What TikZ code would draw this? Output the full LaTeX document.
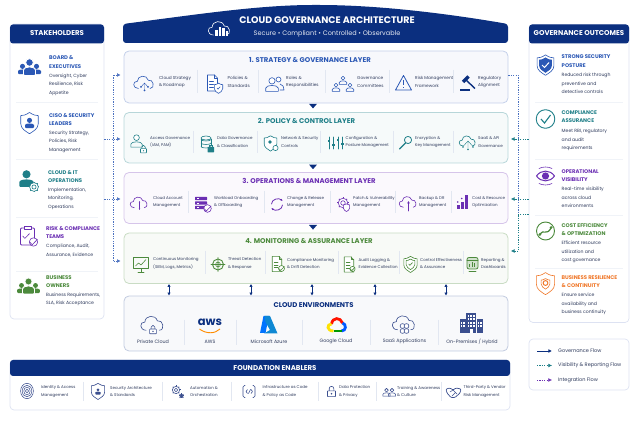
\documentclass[tikz,border=0pt]{standalone}
\usepackage{fontspec}
\usepackage{xcolor}
\usetikzlibrary{arrows.meta}
\setmainfont{Poppins}

\definecolor{navyhead}{HTML}{0B2F7F}
\definecolor{inktext}{HTML}{2E3A5C}
\definecolor{bluet}{HTML}{2B58B5}
\definecolor{tealt}{HTML}{1F7F88}
\definecolor{purplet}{HTML}{6B2FB3}
\definecolor{greent}{HTML}{4C8A3C}
\definecolor{oranget}{HTML}{F0782A}
\definecolor{greyblue}{HTML}{3B4F8F}
\definecolor{panelline}{HTML}{DDE2F2}
\definecolor{sepline}{HTML}{E2E7F1}

\tikzset{
  icl/.style={draw=#1,line width=0.6pt,line cap=round,line join=round},
  panelbox/.style={draw=panelline,line width=0.7pt,fill=white,rounded corners=4pt,inner sep=0pt},
  layerbox/.style n args={2}{draw=#1,fill=#2,line width=0.8pt,rounded corners=5pt,inner sep=0pt,
    minimum width=384pt},
  headtxt/.style={text=white,inner sep=0pt,font=\bfseries\fontsize{7}{8}\selectfont},
  layertitle/.style={inner sep=0pt,font=\bfseries\fontsize{6.9}{8}\selectfont},
  itemtxt/.style={anchor=west,align=left,inner sep=0pt,text=inktext,font=\fontsize{4}{7.5}\selectfont},
  itemtxtbig/.style={itemtxt,font=\fontsize{4.25}{7.5}\selectfont},
  sidetitle/.style={anchor=west,align=left,inner sep=0pt,font=\bfseries\fontsize{5.3}{8.5}\selectfont},
  sidetxt/.style={anchor=west,align=left,inner sep=0pt,text=inktext,font=\fontsize{4.6}{8.4}\selectfont},
  envtxt/.style={inner sep=0pt,text=inktext,font=\fontsize{4.8}{5}\selectfont},
  legendtxt/.style={anchor=west,inner sep=0pt,text=inktext,font=\fontsize{5}{6}\selectfont},
  busline/.style={draw=#1,line width=0.6pt,dash pattern=on 1.2pt off 1.2pt},
  flowtip/.style={-{Latex[length=3.6pt,width=3.8pt]}},
  twotip/.style={{Latex[length=3pt,width=3.4pt]}-{Latex[length=3pt,width=3.4pt]},draw=navyhead,line width=0.6pt},
}

% small icons, all centred on (#1,#2)
\newcommand{\iccloud}[4]{\begin{scope}[shift={(#1,#2)},scale=#3]
  \draw[icl=#4] (-5.5,5) .. controls (-11,5) and (-11,-2) .. (-6.5,-1.5) .. controls (-6.5,-7) and (2,-8) .. (3.5,-2.5) .. controls (8,-4) and (10,5) .. (5,5);
\end{scope}}
\newcommand{\iclock}[4]{\begin{scope}[shift={(#1,#2)},scale=#3]
  \draw[icl=#4] (-2,-1) -- (-2,-3) .. controls (-2,-5.5) and (2,-5.5) .. (2,-3) -- (2,-1);
  \draw[icl=#4,fill=white,rounded corners=0.5pt] (-3.5,-1) rectangle (3.5,4);
  \fill[#4] (0,1.5) circle (0.8);
\end{scope}}
\newcommand{\icshield}[4]{\begin{scope}[shift={(#1,#2)},scale=#3]
  \draw[icl=#4,fill=white] (0,-8) .. controls (3,-6) and (5,-5.5) .. (7,-5.5) -- (7,1) .. controls (7,5) and (3,7) .. (0,9) .. controls (-3,7) and (-7,5) .. (-7,1) -- (-7,-5.5) .. controls (-5,-5.5) and (-3,-6) .. (0,-8) -- cycle;
\end{scope}}
\newcommand{\iccheck}[4]{\begin{scope}[shift={(#1,#2)},scale=#3]
  \draw[icl=#4] (-3,0) -- (-1,2.2) -- (3.2,-2.2);
\end{scope}}
\newcommand{\icgear}[4]{\begin{scope}[shift={(#1,#2)}]
  \foreach \a in {0,45,...,315} \draw[#4,line width=1pt] (\a:#3-0.5) -- (\a:#3+0.7);
  \draw[icl=#4,fill=white] (0,0) circle (#3-0.2);
  \draw[icl=#4] (0,0) circle (#3*0.45);
\end{scope}}
\newcommand{\icperson}[4]{\begin{scope}[shift={(#1,#2)},scale=#3]
  \draw[icl=#4,fill=white] (0,-3) circle (3);
  \draw[icl=#4] (-6,7) -- (-6,4) .. controls (-6,0.5) and (6,0.5) .. (6,4) -- (6,7) -- cycle;
\end{scope}}
\newcommand{\icpersonfill}[4]{\begin{scope}[shift={(#1,#2)},scale=#3]
  \fill[#4] (0,-3.5) circle (3.4);
  \fill[#4,rounded corners=1pt] (-6,7) -- (-6,4) .. controls (-6,0) and (6,0) .. (6,4) -- (6,7) -- cycle;
\end{scope}}
\newcommand{\icdoc}[4]{\begin{scope}[shift={(#1,#2)},scale=#3]
  \draw[icl=#4,fill=white] (-5,-8) -- (2,-8) -- (5,-5) -- (5,8) -- (-5,8) -- cycle;
  \draw[icl=#4] (2,-8) -- (2,-5) -- (5,-5);
  \foreach \ly in {-2,1,4} \draw[icl=#4] (-3,\ly) -- (1,\ly);
\end{scope}}
\newcommand{\icbadge}[4]{\draw[icl=#4,fill=white] (#1,#2) circle (#3);
  \iccheck{#1}{#2}{#3*0.3}{#4}}

\begin{document}
\begin{tikzpicture}[x=1pt,y=-1pt]
  \useasboundingbox (0,0) rectangle (640,427);

  % Title banner
  \fill[navyhead,rounded corners=3pt] (123,43) -- (123,24) .. controls (200,14) and (260,5) .. (316,5) .. controls (380,5) and (450,14) .. (508,24) -- (508,43) -- cycle;
  \node[inner sep=0pt,text=white,font=\bfseries\fontsize{9.5}{10}\selectfont] (maintitle) at (327,20.5) {CLOUD GOVERNANCE ARCHITECTURE};
  \node[inner sep=0pt,text=white!90!navyhead,font=\fontsize{6.5}{7}\selectfont] (subtitle) at (327,33.5) {Secure • Compliant • Controlled • Observable};
  \iccloud{220}{29}{1.2}{white}
  \foreach \bx/\bh in {215/6,218.5/9,222/8,225.5/5} \fill[white] (\bx,36) rectangle +(2.5,-\bh);

  % Stakeholders panel
  \node[panelbox,minimum width=94pt,minimum height=295pt] (stake) at (57,171.5) {};
  \fill[navyhead,rounded corners=3pt] (10,43.5) -- (10,24.5) -- (104,24.5) -- (104,43.5) -- cycle;
  \node[headtxt] (stakehead) at (57,33.5) {STAKEHOLDERS};
  \foreach \ly in {102.5,159.5,217,271} \draw[sepline!50,line width=0.5pt] (16,\ly) -- (98,\ly);

  \node[sidetitle,text=bluet] (s1a) at (49,62) {BOARD \&\\EXECUTIVES};
  \node[sidetxt] (s1b) at (49,84.5) {Oversight, Cyber\\Resilience, Risk\\Appetite};
  \node[sidetitle,text=bluet] (s2a) at (49,119.5) {CISO \& SECURITY\\LEADERS};
  \node[sidetxt] (s2b) at (49,141.5) {Security Strategy,\\Policies, Risk\\Management};
  \node[sidetitle,text=tealt] (s3a) at (48,176.5) {CLOUD \& IT\\OPERATIONS};
  \node[sidetxt] (s3b) at (48,198.5) {Implementation,\\Monitoring,\\Operations};
  \node[sidetitle,text=purplet] (s4a) at (46,232.5) {RISK \& COMPLIANCE\\TEAMS};
  \node[sidetxt] (s4b) at (46,250.5) {Compliance, Audit,\\Assurance, Evidence};
  \node[sidetitle,text=greent] (s5a) at (46,281.5) {BUSINESS\\OWNERS};
  \node[sidetxt] (s5b) at (46,299.5) {Business Requirements,\\SLA, Risk Acceptance};

  % Stakeholder icons
  \begin{scope}[shift={(29.5,67)}]
    \icpersonfill{-7}{2}{0.75}{bluet}\icpersonfill{7}{2}{0.75}{bluet}
    \draw[white,line width=0.8pt,fill=bluet] (0,-4.5) circle (3.8);
    \draw[white,line width=0.8pt,fill=bluet,rounded corners=1pt] (-6,8.5) -- (-6,4) .. controls (-6,-1) and (6,-1) .. (6,4) -- (6,8.5) -- cycle;
  \end{scope}
  \icshield{29.5}{122.5}{1.25}{bluet}
  \icpersonfill{29.5}{123}{0.75}{bluet}
  \icpersonfill{26.5}{178.5}{1.2}{tealt}
  \icgear{34}{187}{4.6}{tealt}
  \draw[icl=purplet,line width=0.8pt,rounded corners=1pt] (20.5,228) rectangle (34.5,245);
  \draw[icl=purplet,fill=white] (24,229) -- (24,226) -- (31,226) -- (31,229) -- cycle;
  \iccheck{26}{236}{1.1}{purplet}
  \icbadge{33.5}{242}{4.2}{purplet}
  \begin{scope}[shift={(28.5,286)}]
    \icpersonfill{-7}{2}{0.72}{greent}\icpersonfill{7}{2}{0.72}{greent}
    \draw[white,line width=0.8pt,fill=greent] (0,-4.5) circle (3.6);
    \draw[white,line width=0.8pt,fill=greent,rounded corners=1pt] (-6,8) -- (-6,4) .. controls (-6,-1) and (6,-1) .. (6,4) -- (6,8) -- cycle;
  \end{scope}

  % Outcomes panel
  \node[panelbox,minimum width=100pt,minimum height=298pt] (outcome) at (579,173.5) {};
  \fill[navyhead,rounded corners=3pt] (529,43.5) -- (529,24.5) -- (629,24.5) -- (629,43.5) -- cycle;
  \node[headtxt] (outhead) at (579,33.5) {GOVERNANCE OUTCOMES};
  \foreach \ly in {102,159,215,268} \draw[sepline!50,line width=0.5pt] (535,\ly) -- (623,\ly);

  \node[sidetitle,text=bluet] (o1a) at (561.5,61) {STRONG SECURITY\\POSTURE};
  \node[sidetxt] (o1b) at (561.5,83.5) {Reduced risk through\\preventive and\\detective controls};
  \node[sidetitle,text=tealt] (o2a) at (561.5,116.5) {COMPLIANCE\\ASSURANCE};
  \node[sidetxt] (o2b) at (561.5,140) {Meet RBI, regulatory\\and audit\\requirements};
  \node[sidetitle,text=purplet] (o3a) at (561.5,175.5) {OPERATIONAL\\VISIBILITY};
  \node[sidetxt] (o3b) at (561.5,197.5) {Real-time visibility\\across cloud\\environments};
  \node[sidetitle,text=greent] (o4a) at (561.5,229.5) {COST EFFICIENCY\\\& OPTIMIZATION};
  \node[sidetxt] (o4b) at (561.5,252) {Efficient resource\\utilization and\\cost governance};
  \node[sidetitle,text=oranget] (o5a) at (561.5,281.5) {BUSINESS RESILIENCE\\\& CONTINUITY};
  \node[sidetxt] (o5b) at (561.5,304) {Ensure service\\availability and\\business continuity};

  % Outcome icons
  \icshield{545.5}{64.5}{1.2}{bluet}
  \begin{scope}[shift={(545.5,64.7)},scale=0.9]
    \fill[bluet] (0,-8) .. controls (3,-6) and (5,-5.5) .. (7,-5.5) -- (7,1) .. controls (7,5) and (3,7) .. (0,9) .. controls (-3,7) and (-7,5) .. (-7,1) -- (-7,-5.5) .. controls (-5,-5.5) and (-3,-6) .. (0,-8) -- cycle;
  \end{scope}
  \draw[white,line width=1pt] (542,65) -- (544.5,67.5) -- (549,62.5);
  \draw[icl=tealt,line width=0.9pt] (545.5,119) circle (9.3);
  \draw[tealt,line width=1.1pt] (541,119) -- (544.5,123) -- (550.5,115);
  \draw[icl=purplet,line width=1pt] (536.5,176) .. controls (541,169.5) and (550,169.5) .. (554.5,176) .. controls (550,182.5) and (541,182.5) .. (536.5,176) -- cycle;
  \fill[purplet] (545.5,176) circle (3.6);
  \draw[icl=purplet] (539,168.5) .. controls (543,166.5) and (548,166.5) .. (552,168.5);
  \draw[icl=purplet] (539,183.5) .. controls (543,185.5) and (548,185.5) .. (552,183.5);
  \draw[icl=greent,line width=0.9pt] (545.5,231) circle (9);
  \draw[greent,line width=1.2pt] (540,234) .. controls (543,229) and (547,236) .. (551,228);
  \fill[greent] (539.8,234.5) circle (1.5) (551.2,227.5) circle (1.5);
  \icshield{545.5}{283}{1.3}{oranget}
  \icshield{545.5}{283.5}{0.62}{oranget}
  \draw[oranget,line width=1pt,fill=white] (545.5,283) circle (2.4);

  % Layer 1
  \node[layerbox={bluet!28}{bluet!4},minimum height=52pt] (layerone) at (316,77) {};
  \node[layertitle,text=bluet] (layeronet) at (310,60.5) {1. STRATEGY \& GOVERNANCE LAYER};
  \foreach \sx in {197,258,325,389,453} \draw[sepline,line width=0.5pt] (\sx,70) -- (\sx,93);
  \node[itemtxtbig] (a1) at (159,82) {Cloud Strategy\\\& Roadmap};
  \node[itemtxtbig] (a2) at (227.5,82) {Policies \&\\Standards};
  \node[itemtxtbig] (a3) at (286,82) {Roles \&\\Responsibilities};
  \node[itemtxtbig] (a4) at (357,82) {Governance\\Committees};
  \node[itemtxtbig] (a5) at (415,82) {Risk Management\\Framework};
  \node[itemtxtbig] (a6) at (478,82) {Regulatory\\Alignment};
  \iccloud{144.5}{83}{1.1}{bluet}
  \fill[bluet] (141,87) circle (1) (144.5,90.5) circle (1) (148,87) circle (1);
  \draw[icl=bluet,line width=0.4pt] (141,87) -- (144.5,83) -- (148,87) (144.5,83) -- (144.5,90.5);
  \icdoc{212.5}{83}{1}{bluet}
  \icshield{218.5}{88}{0.6}{bluet}
  \iccheck{218.5}{88}{0.5}{bluet}
  \icperson{272}{84}{1.05}{bluet}
  \draw[icl=bluet,fill=white] (278.5,79.5) circle (2.5);
  \draw[icl=bluet] (280,84) .. controls (283,84.5) and (284,87) .. (284,90) -- (280,90);
  \icperson{336}{87}{0.62}{bluet}\icperson{350}{87}{0.62}{bluet}
  \icperson{343}{80}{0.62}{bluet}
  \draw[icl=bluet,line width=0.8pt] (403.5,75.5) -- (411.5,90) -- (395.5,90) -- cycle;
  \draw[bluet,line width=0.9pt] (403.5,80) -- (403.5,85.5) (403.5,87.2) -- (403.5,87.7);
  \draw[navyhead,line width=3.2pt] (463,82) -- (468.5,76.5);
  \draw[navyhead,line width=1.4pt] (466,80) -- (475,88.5);
  \draw[navyhead,line width=1.4pt] (460,90) -- (470,90);

  % Layer 2
  \node[layerbox={tealt!32}{tealt!4},minimum height=50.5pt] (layertwo) at (316,137.75) {};
  \node[layertitle,text=tealt] (layertwot) at (306.5,121) {2. POLICY \& CONTROL LAYER};
  \foreach \sx in {193,257,320,393,453} \draw[sepline,line width=0.5pt] (\sx,131) -- (\sx,153);
  \node[itemtxt] (b1) at (150,142) {Access Governance\\(IAM, PAM)};
  \node[itemtxt] (b2) at (217,142) {Data Governance\\\& Classification};
  \node[itemtxt] (b3) at (281,142) {Network \& Security\\Controls};
  \node[itemtxt] (b4) at (345.5,142) {Configuration \&\\Posture Management};
  \node[itemtxt] (b5) at (415,142) {Encryption \&\\Key Management};
  \node[itemtxt] (b6) at (478,142) {SaaS \& API\\Governance};
  \icperson{136.5}{140.5}{0.95}{tealt}
  \iclock{143.5}{149.5}{0.85}{tealt}
  \foreach \dy in {139.5,143,146.5} \draw[icl=tealt] (201,\dy) .. controls (201,\dy+2) and (211,\dy+2) .. (211,\dy);
  \draw[icl=tealt] (201,139) -- (201,147) (211,139) -- (211,145);
  \draw[icl=tealt] (206,138) ellipse (5 and 2);
  \fill[tealt,rounded corners=0.5pt] (207.5,147) rectangle (214,152.5);
  \draw[tealt,line width=0.5pt] (209,147) -- (209,145.5) (212.5,147) -- (212.5,145.5) (209,145.5) -- (212.5,145.5);
  \icshield{270.5}{143}{0.9}{tealt}
  \draw[icl=tealt,fill=white] (275.5,148) circle (2.6);
  \fill[tealt] (270,142) circle (1.8);
  \foreach \sx/\sy in {329/141,333.5/145,338/140,342.5/144} {
    \draw[icl=tealt] (\sx,137) -- (\sx,149);
    \fill[tealt] (\sx-1.2,\sy-1) rectangle (\sx+1.2,\sy+1);
  }
  \draw[icl=tealt,line width=0.8pt] (408,140) circle (3.6);
  \draw[icl=tealt,line width=1.2pt] (405.5,143) -- (399.5,149);
  \iccloud{468}{141.5}{0.9}{tealt}
  \draw[icl=tealt,line width=0.4pt] (468,141) -- (468,149) (468,141) -- (463,146.5) (468,141) -- (473,146.5);
  \fill[tealt] (468,149.5) circle (0.9) (463,147) circle (0.9) (473,147) circle (0.9);

  % Layer 3
  \node[layerbox={purplet!28}{purplet!3},minimum height=51pt] (layerthree) at (316,198) {};
  \node[layertitle,text=purplet] (layerthreet) at (309,181) {3. OPERATIONS \& MANAGEMENT LAYER};
  \foreach \sx in {188,264.5,330,395,451} \draw[sepline,line width=0.5pt] (\sx,191) -- (\sx,213);
  \node[itemtxt] (c1) at (153,202) {Cloud Account\\Management};
  \node[itemtxt] (c2) at (214,202) {Workload Onboarding\\\& Offboarding};
  \node[itemtxt] (c3) at (287,202) {Change \& Release\\Management};
  \node[itemtxt] (c4) at (353,202) {Patch \& Vulnerability\\Management};
  \node[itemtxt] (c5) at (419,202) {Backup \& DR\\Management};
  \node[itemtxt] (c6) at (472,202) {Cost \& Resource\\Optimization};
  \iccloud{139.5}{203}{0.95}{purplet}
  \draw[icl=purplet,<->,>={Latex[length=1.5pt,width=1.5pt]},line width=0.4pt] (139.5,201) -- (139.5,210);
  \foreach \ry in {197,201.5,206} {
    \fill[purplet,rounded corners=0.5pt] (195,\ry) rectangle (207,\ry+3.2);
    \fill[white] (197,\ry+1.1) rectangle (199,\ry+2.1);
  }
  \icbadge{207.5}{208.5}{3.8}{purplet}
  \draw[icl=purplet,line width=0.8pt,-{Latex[length=2pt,width=2.2pt]}] (271.5,204) .. controls (271.5,199) and (279,197.5) .. (282.5,201);
  \draw[icl=purplet,line width=0.8pt,-{Latex[length=2pt,width=2.2pt]}] (282.5,205) .. controls (282.5,210) and (275,211.5) .. (271.5,208);
  \icgear{343}{203}{5}{purplet}
  \icshield{346.5}{207.5}{0.45}{purplet}
  \iccloud{408.5}{202.5}{0.95}{purplet}
  \draw[icl=purplet,line width=1pt,-{Latex[length=2.5pt,width=3pt]}] (408.5,211) -- (408.5,201);
  \foreach \bx/\bt in {457/205,461/202,465/195} \fill[purplet] (\bx,209.5) rectangle (\bx+2.6,\bt);
  \fill[purplet] (457.8,202) circle (0.9) (461.8,198.5) circle (0.9);

  % Layer 4
  \node[layerbox={greent!30}{greent!4},minimum height=50.5pt] (layerfour) at (316,258.25) {};
  \node[layertitle,text=greent] (layerfourt) at (309,241.5) {4. MONITORING \& ASSURANCE LAYER};
  \foreach \sx in {205,265,338,399,463} \draw[sepline,line width=0.5pt] (\sx,251) -- (\sx,274);
  \node[itemtxt] (d1) at (153,263.5) {Continuous Monitoring\\(SIEM, Logs, Metrics)};
  \node[itemtxt] (d2) at (228,263.5) {Threat Detection\\\& Response};
  \node[itemtxt] (d3) at (287,263.5) {Compliance Monitoring\\\& Drift Detection};
  \node[itemtxt] (d4) at (358.5,263.5) {Audit Logging \&\\Evidence Collection};
  \node[itemtxt] (d5) at (420,263.5) {Control Effectiveness\\\& Assurance};
  \node[itemtxt] (d6) at (481,263.5) {Reporting \&\\Dashboards};
  \draw[icl=greent,line width=0.8pt] (133.5,257.5) rectangle (148,268.5);
  \draw[icl=greent] (138,272) -- (144,272) (141,268.5) -- (141,272);
  \draw[icl=greent] (135.5,266) -- (138.5,263) -- (141,265) -- (146,259.5);
  \draw[icl=greent,line width=0.9pt] (218,264.5) circle (5.5);
  \draw[icl=greent] (218,264.5) circle (2.4) (218,257.5) -- (218,271.5) (211,264.5) -- (225,264.5);
  \fill[greent] (218,264.5) circle (1);
  \icdoc{277}{264}{0.95}{greent}
  \icbadge{281.5}{268.5}{3}{greent}
  \icdoc{349}{264.5}{0.95}{greent}
  \icbadge{352.5}{269}{2.6}{greent}
  \icshield{410.5}{264}{0.95}{greent}
  \icshield{410.5}{264}{0.62}{greent}
  \iccheck{410.5}{264}{0.6}{greent}
  \draw[icl=greent,line width=0.8pt,fill=greent!25,rounded corners=2pt] (467,257.5) rectangle (478,269);
  \draw[icl=greent] (467,260) -- (478,260) (469,271) -- (476,271);
  \foreach \bx/\bh in {469.5/3,472/5,474.5/4} \draw[greent,line width=1pt] (\bx,267) -- (\bx,267-\bh);

  % Flow triangles between the layers
  \foreach \tx/\ty in {313/103.8,313/164.6,313/225} \fill[navyhead] (\tx-4,\ty) -- (\tx+4,\ty) -- (\tx,\ty+4.6) -- cycle;

  % Cloud environments
  \node[layerbox={navyhead!25}{navyhead!3},minimum height=55pt] (envbox) at (316,323.5) {};
  \node[layertitle,text=navyhead] (envt) at (313.5,305) {CLOUD ENVIRONMENTS};
  \foreach \sx in {184.5,236.5,302.5,370.5,438} \draw[sepline,line width=0.5pt] (\sx,320) -- (\sx,345);
  \node[envtxt] (e1) at (153,341.5) {Private Cloud};
  \node[envtxt] (e2) at (210,341.5) {AWS};
  \node[envtxt] (e3) at (269,341.5) {Microsoft Azure};
  \node[envtxt] (e4) at (336,341.5) {Google Cloud};
  \node[envtxt] (e5) at (404.5,341.5) {SaaS Applications};
  \node[envtxt] (e6) at (472,341.5) {On-Premises / Hybrid};
  \iccloud{153}{324}{1.25}{greyblue}
  \iclock{153}{330}{0.95}{greyblue}
  \node[inner sep=0pt,text=navyhead,font=\bfseries\fontsize{11.5}{12}\selectfont] (awsmark) at (210,322) {aws};
  \draw[draw=orange!90!yellow,line width=0.9pt] (199.5,329) .. controls (206,334) and (215,334) .. (220,329);
  \fill[blue!55!cyan] (269,316) -- (263.5,316) -- (260,333) -- (265.5,333) -- cycle;
  \fill[cyan!70!blue] (264.5,316) -- (270,316) -- (277.5,333.5) -- (264,333.5) -- (270,330) -- (265.5,322) -- cycle;
  \begin{scope}[shift={(336.5,325)}]
    \draw[red!85!orange,line width=2.8pt] (-5,-1) .. controls (-4,-8) and (4,-8) .. (6,-2);
    \draw[blue!65!cyan,line width=2.8pt] (6,-2) .. controls (10,-1) and (10,6) .. (5,6);
    \draw[green!60!black,line width=2.8pt] (5,6) -- (-3,6);
    \draw[yellow!85!orange,line width=2.8pt] (-3,6) .. controls (-10,6) and (-10,-1) .. (-5,-1);
  \end{scope}
  \iccloud{404.5}{323.5}{1.25}{greyblue}
  \foreach \lx/\ly in {402.5/326,406.5/326,402.5/331,406.5/331} \draw[icl=greyblue,fill=white] (\lx,\ly) circle (2.4);
  \begin{scope}[greyblue]
    \fill (466,313) rectangle (476,333);
    \fill (459.5,319.5) rectangle (465.5,333);
    \fill (476.5,319.5) rectangle (483,333);
    \foreach \wx in {467.5,470.2,472.9} \foreach \wy in {315,318.5,322,325.5} \fill[white] (\wx,\wy) rectangle +(1.6,1.8);
    \foreach \wx in {461,463.3,478,480.3} \foreach \wy in {322,325.5} \fill[white] (\wx,\wy) rectangle +(1.2,1.8);
    \fill[white] (469.5,329) rectangle (472.5,333);
  \end{scope}

  % Two way arrows between layer 4 and the cloud environments
  \foreach \ax in {169,251,312,375,446} \draw[twotip] (\ax,0 |- layerfour.south) -- (\ax,0 |- envbox.north);

  % Stakeholder dotted lines
  \coordinate (busla) at (113.5,75);
  \coordinate (buslb) at (113.5,139);
  \coordinate (buslc) at (113.5,199);
  \coordinate (busld) at (113.5,261);
  \draw[busline=bluet!85] (busld) -- (busla);
  \draw[busline=bluet!85,flowtip,shorten >=3pt] (busla) -- (layerone.west |- busla);
  \draw[busline=bluet!85,flowtip,shorten >=3pt] (stake.east |- buslb) -- (layertwo.west |- buslb);
  \draw[busline=bluet!85,flowtip,shorten >=3pt] (stake.east |- buslc) -- (layerthree.west |- buslc);
  \draw[busline=bluet!85,flowtip,shorten >=3pt] (busld) -- (layerfour.west |- busld);

  % Outcome dotted lines
  \coordinate (busra) at (518,75);
  \coordinate (busrb) at (518,139);
  \coordinate (busrc) at (518,199);
  \coordinate (busre) at (518,214);
  \coordinate (busrd) at (518,251);
  \draw[busline=bluet!85] (layerone.east |- busra) -- (busra) -- (busre);
  \draw[busline=tealt,flowtip,shorten >=2.5pt] (outcome.west |- busrb) -- (layertwo.east |- busrb);
  \draw[busline=tealt,flowtip,shorten >=2.5pt] (outcome.west |- busrc) -- (layerthree.east |- busrc);
  \draw[busline=tealt] (outcome.west |- busre) -- (busre) -- (busrd);
  \draw[busline=tealt,flowtip,shorten >=2.5pt] (busrd) -- (layerfour.east |- busrd);

  % Foundation enablers
  \node[panelbox,minimum width=500pt,minimum height=50pt] (found) at (260,385) {};
  \fill[navyhead,rounded corners=3pt] (10,376) -- (10,360) -- (510,360) -- (510,376) -- cycle;
  \node[headtxt] (foundt) at (275,367.7) {FOUNDATION ENABLERS};
  \foreach \sx in {83,162.5,231.5,318,376.5,441} \draw[sepline,line width=0.5pt] (\sx,382) -- (\sx,401);
  \node[itemtxt] (f1) at (41,391.7) {Identity \& Access\\Management};
  \node[itemtxt] (f2) at (110,391.7) {Security Architecture\\\& Standards};
  \node[itemtxt] (f3) at (190,391.7) {Automation \&\\Orchestration};
  \node[itemtxt] (f4) at (262.5,391.7) {Infrastructure as Code\\\& Policy as Code};
  \node[itemtxt] (f5) at (339,391.7) {Data Protection\\\& Privacy};
  \node[itemtxt] (f6) at (397,391.7) {Training \& Awareness\\\& Culture};
  \node[itemtxt] (f7) at (463.5,391.7) {Third-Party \& Vendor\\Risk Management};
  \foreach \fr in {1.6,3.2,4.8,6.4} \draw[icl=greyblue,line width=0.5pt] (27,391) ellipse ({\fr} and {\fr*1.2});
  \icshield{98}{391}{0.95}{greyblue}
  \icpersonfill{98}{391.5}{0.45}{greyblue}
  \icgear{176}{390}{3.8}{greyblue}
  \icgear{181.5}{396}{1.8}{greyblue}
  \draw[icl=greyblue,rounded corners=1.5pt] (245,385.5) -- (243,385.5) -- (243,397.5) -- (245,397.5) (253,385.5) -- (255,385.5) -- (255,397.5) -- (253,397.5);
  \draw[icl=greyblue] (247.5,389.5) -- (246,391.5) -- (247.5,393.5) (250.5,389.5) -- (248.5,393.5) (251,389.5) -- (252.5,391.5) -- (251,393.5);
  \iclock{331.5}{392}{1.15}{greyblue}
  \icperson{386.5}{392}{0.6}{greyblue}
  \icperson{392}{392}{0.6}{greyblue}
  \draw[icl=greyblue,line width=0.7pt,rounded corners=1pt] (446,389) -- (450,388) -- (453,390) -- (456,388) -- (461,389) -- (460,393) -- (455,397.5) -- (451,397.5) -- (447,393) -- cycle;
  \draw[icl=greyblue,line width=0.5pt] (450,392) -- (453,390) -- (457,394) (452,396) -- (455,393);

  % Legend
  \node[panelbox,minimum width=100pt,minimum height=51pt] (legend) at (579,364.5) {};
  \node[legendtxt] (g1) at (558,351) {Governance Flow};
  \node[legendtxt] (g2) at (558,365.5) {Visibility \& Reporting Flow};
  \node[legendtxt] (g3) at (558,380) {Integration Flow};
  \coordinate (ga) at (537,351);
  \coordinate (gb) at (537,365.5);
  \coordinate (gc) at (537,380);
  \draw[draw=navyhead,line width=0.8pt,flowtip,shorten >=6pt] (ga) -- (g1.west);
  \draw[busline=tealt,flowtip,shorten >=6pt] (gb) -- (g2.west);
  \draw[busline=purplet,flowtip,shorten >=6pt] (gc) -- (g3.west);
\end{tikzpicture}
\end{document}
